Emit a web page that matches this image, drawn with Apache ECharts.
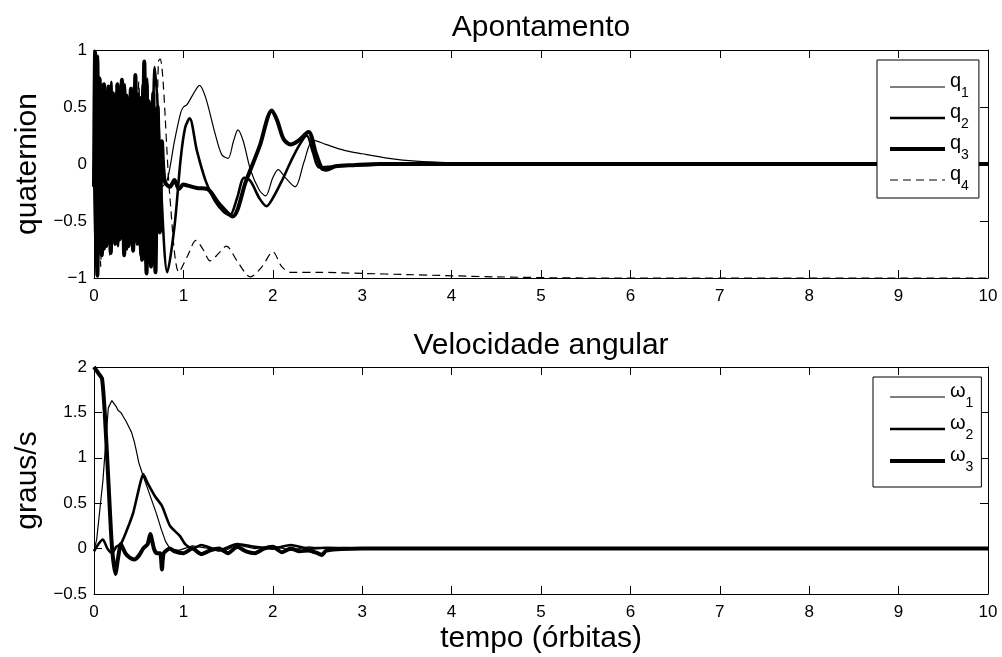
<!DOCTYPE html>
<html>
<head>
<meta charset="utf-8">
<script src="https://cdn.jsdelivr.net/npm/echarts@6/dist/echarts.min.js"></script>
<style>
html,body{margin:0;padding:0;background:#fff;}
#chart{width:1002px;height:657px;}
</style>
</head>
<body>
<div id="chart"></div>
<script>
// ---------- data (time in orbits, value) ----------
const xTicks = [0,1,2,3,4,5,6,7,8,9,10];
const qNames = ['q1','q2','q3','q4'];
const wNames = ['w1','w2','w3'];
const titleTop = 'Apontamento';
const titleBottom = 'Velocidade angular';

const q1 = [[0,0.1],[0.006,0.85],[0.031,-0.7],[0.056,0.6],[0.081,-0.75],[0.106,0.65],[0.131,-0.6],[0.156,0.55],[0.181,-0.7],[0.206,0.6],[0.231,-0.55],[0.256,0.62],[0.281,-0.68],[0.306,0.5],[0.331,-0.6],[0.356,0.66],[0.381,-0.62],[0.406,0.58],[0.431,-0.7],[0.456,0.6],[0.481,-0.58],[0.506,0.66],[0.531,-0.72],[0.556,0.55],[0.581,-0.62],[0.606,0.7],[0.631,-0.66],[0.656,0.6],[0.681,-0.75],[0.706,0.5],[0.731,0.2],[0.76,-0.2],[0.82,-0.14],[0.9,0.2],[0.97,0.45],[1.0,0.5],[1.04,0.52],[1.1,0.6],[1.18,0.69],[1.25,0.58],[1.35,0.28],[1.43,0.08],[1.5,0.05],[1.56,0.2],[1.61,0.3],[1.67,0.2],[1.75,-0.05],[1.85,-0.23],[1.92,-0.28],[2.0,-0.12],[2.06,-0.05],[2.14,-0.12],[2.25,-0.2],[2.35,0.02],[2.45,0.21],[2.6,0.17],[2.8,0.12],[3.0,0.09],[3.3,0.05],[3.6,0.025],[4.0,0.01],[4.5,0],[10,0]];

const q2 = [[0,0.0],[0.019,-0.9],[0.044,0.95],[0.069,-0.65],[0.094,0.7],[0.119,-0.75],[0.144,0.6],[0.169,-0.68],[0.194,0.72],[0.219,-0.6],[0.244,0.58],[0.269,-0.72],[0.294,0.65],[0.319,-0.62],[0.344,0.7],[0.369,-0.75],[0.394,0.55],[0.419,-0.66],[0.444,0.68],[0.469,-0.6],[0.494,0.62],[0.519,-0.8],[0.544,0.7],[0.569,-0.65],[0.594,0.75],[0.619,-0.85],[0.644,-0.3],[0.68,0.85],[0.72,0.4],[0.75,-0.2],[0.82,-0.95],[0.9,-0.55],[0.97,0.05],[1.02,0.32],[1.07,0.4],[1.15,0.12],[1.25,-0.15],[1.35,-0.32],[1.45,-0.42],[1.52,-0.45],[1.6,-0.3],[1.68,-0.12],[1.75,-0.15],[1.85,-0.3],[1.93,-0.37],[2.0,-0.3],[2.1,-0.15],[2.2,0.02],[2.3,0.17],[2.38,0.25],[2.45,0.1],[2.52,-0.03],[2.7,-0.02],[3.0,-0.01],[3.5,0],[10,0]];

const q3 = [[0,-0.2],[0.0125,0.98],[0.0375,-0.98],[0.0625,0.75],[0.0875,-0.8],[0.1125,0.7],[0.1375,-0.72],[0.1625,0.68],[0.1875,-0.78],[0.2125,0.62],[0.2375,-0.7],[0.2625,0.7],[0.2875,-0.66],[0.3125,0.74],[0.3375,-0.8],[0.3625,0.6],[0.3875,-0.72],[0.4125,0.66],[0.4375,-0.76],[0.4625,0.78],[0.4875,-0.7],[0.5125,0.58],[0.5375,-0.84],[0.5625,0.9],[0.5875,-0.96],[0.6125,0.55],[0.6375,-0.9],[0.6625,0.62],[0.6875,-0.95],[0.7125,0.5],[0.7375,-0.6],[0.76,0.2],[0.79,-0.15],[0.85,-0.2],[0.9,-0.14],[0.95,-0.22],[1.0,-0.18],[1.05,-0.19],[1.15,-0.21],[1.27,-0.22],[1.4,-0.35],[1.55,-0.46],[1.7,-0.15],[1.85,0.15],[1.99,0.47],[2.05,0.38],[2.12,0.22],[2.2,0.17],[2.28,0.2],[2.4,0.28],[2.48,0.1],[2.55,-0.04],[2.6,-0.05],[2.7,-0.02],[2.9,-0.01],[3.2,0],[10,0]];

const q4 = [[0,1.0],[0.025,-0.6],[0.05,0.7],[0.075,-0.9],[0.1,0.6],[0.125,-0.7],[0.15,0.65],[0.175,-0.8],[0.2,0.55],[0.225,-0.62],[0.25,0.7],[0.275,-0.6],[0.3,0.5],[0.325,-0.72],[0.35,0.64],[0.375,-0.58],[0.4,0.6],[0.425,-0.7],[0.45,0.52],[0.475,-0.66],[0.5,0.72],[0.525,-0.6],[0.55,0.6],[0.575,-0.9],[0.6,0.66],[0.625,-0.7],[0.65,0.5],[0.675,-0.9],[0.72,0.9],[0.74,0.92],[0.85,-0.3],[0.95,-0.95],[1.05,-0.8],[1.14,-0.67],[1.22,-0.75],[1.3,-0.85],[1.4,-0.78],[1.48,-0.72],[1.6,-0.85],[1.75,-0.99],[1.88,-0.9],[2.0,-0.77],[2.1,-0.9],[2.2,-0.95],[2.5,-0.95],[3.0,-0.96],[3.5,-0.97],[4.5,-0.99],[5.5,-1],[10,-1]];

const w1 = [[0,-0.02],[0.03,0.1],[0.1,0.75],[0.16,1.55],[0.2,1.63],[0.25,1.56],[0.27,1.52],[0.3,1.5],[0.33,1.45],[0.36,1.4],[0.4,1.32],[0.42,1.28],[0.45,1.18],[0.48,1.05],[0.5,0.95],[0.55,0.8],[0.6,0.66],[0.65,0.52],[0.7,0.38],[0.75,0.22],[0.8,0.08],[0.85,0.0],[0.95,-0.02],[1.1,0.03],[1.3,0.0],[1.45,-0.03],[1.6,0.04],[1.8,0.0],[2.0,0.03],[2.2,-0.02],[2.4,0.02],[2.6,0.0],[3.0,0],[10,0]];

const w2 = [[0,-0.03],[0.05,0.05],[0.1,0.1],[0.15,0.0],[0.2,-0.05],[0.25,0.02],[0.3,0.05],[0.37,0.21],[0.44,0.4],[0.5,0.65],[0.55,0.82],[0.6,0.72],[0.68,0.58],[0.76,0.47],[0.85,0.25],[0.96,0.14],[1.02,0.05],[1.1,0.0],[1.2,0.04],[1.4,-0.02],[1.6,0.05],[1.8,0.02],[2.0,0.0],[2.2,0.04],[2.4,0.0],[2.6,0.01],[3.0,0],[10,0]];

const w3 = [[0,2.0],[0.05,1.93],[0.09,1.87],[0.12,1.5],[0.16,0.76],[0.2,0.03],[0.24,-0.28],[0.27,-0.1],[0.3,0.05],[0.35,-0.05],[0.4,-0.1],[0.45,-0.12],[0.5,-0.08],[0.55,0.0],[0.6,0.05],[0.63,0.16],[0.67,0.0],[0.7,-0.05],[0.74,-0.05],[0.76,-0.23],[0.78,-0.05],[0.85,0.0],[0.9,-0.03],[1.0,-0.05],[1.1,0.0],[1.2,-0.06],[1.3,-0.02],[1.4,0.0],[1.5,-0.05],[1.6,0.02],[1.7,-0.03],[1.8,-0.05],[1.9,0.0],[2.0,0.02],[2.1,-0.04],[2.2,0.0],[2.3,-0.03],[2.4,-0.02],[2.5,-0.05],[2.55,-0.07],[2.6,-0.02],[3.0,0],[10,0]];

// ---------- chart ----------
const FONT = 'Liberation Sans, Arial, Helvetica, sans-serif';
const minusFmt = v => String(v).replace('-', '\u2212');

function subFmt(name){
  const base = name.charAt(0) === 'w' ? '\u03c9' : 'q';
  return '{b|' + base + '}{s|' + name.slice(1) + '}';
}
const rich = {
  b:{fontSize:20, lineHeight:20, fontFamily:FONT, color:'#000', padding:[0,0,12,0]},
  s:{fontSize:14, lineHeight:14, fontFamily:FONT, color:'#000', padding:[12,0,0,0]}
};

function xAx(grid, pos, labels, name){
  return {
    type:'value', gridIndex:grid, position:pos, min:0, max:10, interval:1,
    axisLine:{show:true, onZero:false, lineStyle:{color:'#000', width:1}},
    axisTick:{show:true, inside:true, length:8, lineStyle:{color:'#000'}},
    axisLabel:{show:labels, color:'#000', fontSize:17, fontFamily:FONT, margin:10},
    splitLine:{show:false},
    name: name || '', nameLocation:'middle', nameGap:30,
    nameTextStyle:{fontSize:30, fontFamily:FONT, color:'#000'}
  };
}
function yAx(grid, pos, min, max, labels, name){
  return {
    type:'value', gridIndex:grid, position:pos, min:min, max:max, interval:0.5,
    axisLine:{show:true, onZero:false, lineStyle:{color:'#000', width:1}},
    axisTick:{show:true, inside:true, length:8, lineStyle:{color:'#000'}},
    axisLabel:{show:labels, color:'#000', fontSize:17, fontFamily:FONT, margin:7, formatter:minusFmt},
    splitLine:{show:false},
    name: name || '', nameLocation:'middle', nameGap:50,
    nameTextStyle:{fontSize:30, fontFamily:FONT, color:'#000'}
  };
}
function ser(name, data, xi, yi, width, dashed, smooth){
  return {
    name:name, type:'line', data:data, xAxisIndex:xi, yAxisIndex:yi,
    symbol:'none', showSymbol:false, smooth:smooth, silent:true,
    lineStyle:{color:'#000', width:width, type: dashed ? [8,5] : 'solid'},
    itemStyle:{color:'#000'}
  };
}
function legendCfg(names, left, top, pad, gap){
  return {
    data:names, orient:'vertical', left:left, top:top,
    padding:pad, itemGap:gap, itemWidth:55, itemHeight:14,
    backgroundColor:'#fff', borderColor:'#000', borderWidth:1, borderRadius:0,
    formatter:subFmt, textStyle:{rich:rich, color:'#000'},
    lineStyle:{width:'inherit'}, itemStyle:{opacity:0},
    selectedMode:false
  };
}
function titleText(text, y){
  return {type:'text', x:541, y:y, silent:true,
    style:{text:text, fill:'#000', font:'30px ' + FONT, textAlign:'center', textVerticalAlign:'middle'}};
}

const chart = echarts.init(document.getElementById('chart'), null, {renderer:'canvas'});
chart.setOption({
  animation:false,
  backgroundColor:'#fff',
  graphic:[ titleText(titleTop, 28), titleText(titleBottom, 346) ],
  grid:[
    {left:94, width:894, top:50, height:228},
    {left:94, width:894, top:367, height:227}
  ],
  xAxis:[
    xAx(0,'bottom',true), xAx(0,'top',false),
    xAx(1,'bottom',true,'tempo (órbitas)'), xAx(1,'top',false)
  ],
  yAxis:[
    yAx(0,'left',-1,1,true,'quaternion'), yAx(0,'right',-1,1,false),
    yAx(1,'left',-0.5,2,true,'graus/s'), yAx(1,'right',-0.5,2,false)
  ],
  legend:[
    legendCfg(qNames, 877, 60, [11,10,2,11], -1),
    legendCfg(wNames, 873, 377, [4,8,10,15], 0)
  ],
  series:[
    ser('q1', q1, 0, 0, 1.2, false, 0.3),
    ser('q2', q2, 0, 0, 2.6, false, 0.3),
    ser('q3', q3, 0, 0, 4, false, 0.3),
    ser('q4', q4, 0, 0, 1.2, true, 0.3),
    ser('w1', w1, 2, 2, 1.2, false, false),
    ser('w2', w2, 2, 2, 2.6, false, 0.2),
    ser('w3', w3, 2, 2, 4, false, 0.2)
  ]
});
</script>
</body>
</html>
